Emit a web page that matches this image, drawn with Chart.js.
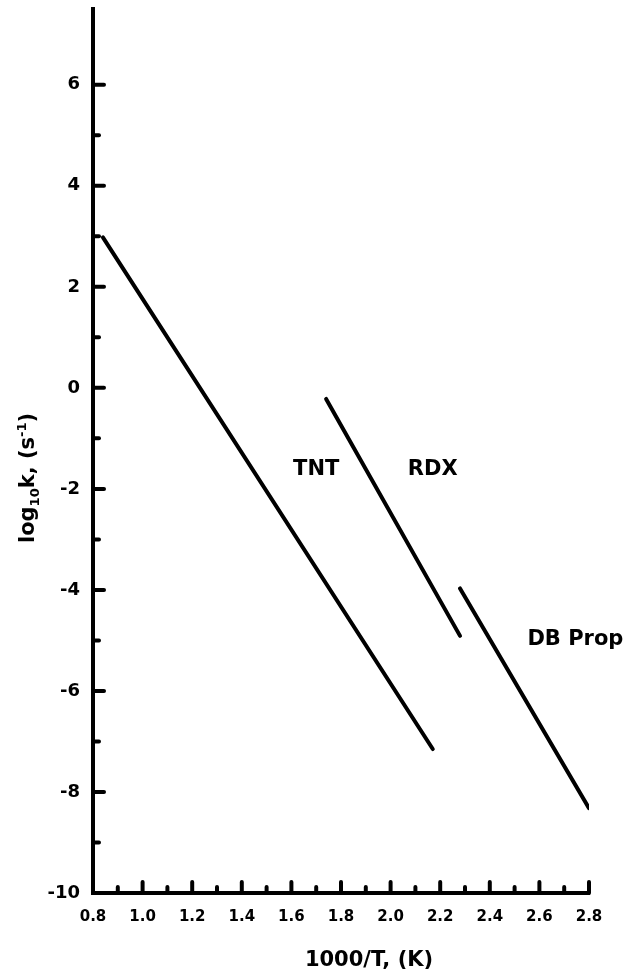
<!DOCTYPE html>
<html>
<head>
<meta charset="utf-8">
<script src="https://cdn.jsdelivr.net/npm/chart.js@4/dist/chart.umd.min.js"></script>
<style>
    body { margin: 0; background: #fff; }
</style>
</head>
<body>
<canvas id="rateChart" width="627" height="973"></canvas>
<script>
// tick labels
const xTickLabels = ['0.8', '1.0', '1.2', '1.4', '1.6', '1.8', '2.0', '2.2', '2.4', '2.6', '2.8'];
const yTickLabels = ['6', '4', '2', '0', '-2', '-4', '-6', '-8', '-10'];
const xMinorTicks = [0.9, 1.1, 1.3, 1.5, 1.7, 1.9, 2.1, 2.3, 2.5, 2.7];
const yMinorTicks = [5, 3, 1, -1, -3, -5, -7, -9];

// Arrhenius lines, 1000/T vs log10 k
const tntX = [0.84, 2.17];
const tntY = [2.98, -7.15];
const rdxX = [1.74, 2.28];
const rdxY = [-0.22, -4.91];
const dbX = [2.28, 2.80];
const dbY = [-3.97, -8.32];

const seriesNames = ['TNT', 'RDX', 'DB Prop'];

const FONT = "'DejaVu Sans', sans-serif";

// where the series names sit, in data units
const notes = [
    { text: seriesNames[0], x: 1.70, y: -1.62 },
    { text: seriesNames[1], x: 2.17, y: -1.62 },
    { text: seriesNames[2], x: 2.745, y: -4.99 }
];

const toPoints = (xs, ys) => xs.map((x, i) => ({ x: x, y: ys[i] }));

const lineStyle = {
    showLine: true,
    borderColor: '#000',
    borderWidth: 4,
    borderCapStyle: 'round',
    pointRadius: 0,
    fill: false
};

const decor = {
    id: 'decor',
    afterDraw(chart) {
        const ctx = chart.ctx;
        const xs = chart.scales.x;
        const ys = chart.scales.y;
        const area = chart.chartArea;
        ctx.save();
        ctx.strokeStyle = '#000';
        ctx.lineCap = 'round';
        ctx.lineWidth = 4;

        // inward tick marks
        const xMajor = xTickLabels.map(Number).filter(v => v > 0.8);
        const tick = (x1, y1, x2, y2) => {
            ctx.beginPath();
            ctx.moveTo(x1, y1);
            ctx.lineTo(x2, y2);
            ctx.stroke();
        };
        xMajor.forEach(v => { const p = xs.getPixelForValue(v); tick(p, area.bottom, p, area.bottom - 11); });
        xMinorTicks.forEach(v => { const p = xs.getPixelForValue(v); tick(p, area.bottom, p, area.bottom - 6); });
        yTickLabels.map(Number).filter(v => v > -10).forEach(v => {
            const p = ys.getPixelForValue(v);
            tick(area.left, p, area.left + 11, p);
        });
        yMinorTicks.forEach(v => { const p = ys.getPixelForValue(v); tick(area.left, p, area.left + 6, p); });

        // series names
        ctx.fillStyle = '#000';
        ctx.font = 'bold 21px ' + FONT;
        ctx.textAlign = 'center';
        ctx.textBaseline = 'middle';
        notes.forEach(n => ctx.fillText(n.text, xs.getPixelForValue(n.x), ys.getPixelForValue(n.y)));

        // x title
        ctx.fillText('1000/T, (K)', 369, 961);

        // y title with subscript and superscript
        const parts = [
            { t: 'log', size: 21, dy: 0 },
            { t: '10', size: 13, dy: 5 },
            { t: 'k, (s', size: 21, dy: 0 },
            { t: '-1', size: 13, dy: -8 },
            { t: ')', size: 21, dy: 0 }
        ];
        let total = 0;
        parts.forEach(p => {
            ctx.font = 'bold ' + p.size + 'px ' + FONT;
            p.w = ctx.measureText(p.t).width;
            total += p.w;
        });
        ctx.translate(27, 478);
        ctx.rotate(-Math.PI / 2);
        ctx.textAlign = 'left';
        ctx.textBaseline = 'alphabetic';
        let cx = -total / 2;
        parts.forEach(p => {
            ctx.font = 'bold ' + p.size + 'px ' + FONT;
            ctx.fillText(p.t, cx, 7 + p.dy);
            cx += p.w;
        });
        ctx.restore();
    }
};

new Chart(document.getElementById('rateChart'), {
    type: 'scatter',
    data: {
        datasets: [
            Object.assign({ label: seriesNames[0], data: toPoints(tntX, tntY) }, lineStyle),
            Object.assign({ label: seriesNames[1], data: toPoints(rdxX, rdxY) }, lineStyle),
            Object.assign({ label: seriesNames[2], data: toPoints(dbX, dbY) }, lineStyle)
        ]
    },
    options: {
        responsive: false,
        animation: false,
        layout: { padding: { top: 9, right: 38, left: 0, bottom: 0 } },
        plugins: {
            legend: { display: false },
            tooltip: { enabled: false }
        },
        scales: {
            x: {
                type: 'linear',
                min: 0.8,
                max: 2.8,
                grid: { display: false, drawTicks: false },
                border: { display: true, color: '#000', width: 4 },
                afterBuildTicks: s => { s.ticks = xTickLabels.map(v => ({ value: Number(v) })); },
                afterFit: s => { s.height = 80; s.paddingLeft = 0; s.paddingRight = 0; },
                ticks: {
                    color: '#000',
                    padding: 15,
                    maxRotation: 0,
                    font: { family: FONT, size: 15, weight: 'bold' },
                    callback: v => Number(v).toFixed(1)
                }
            },
            y: {
                type: 'linear',
                min: -10,
                max: 7.5,
                grid: { display: false, drawTicks: false },
                border: { display: true, color: '#000', width: 4 },
                afterBuildTicks: s => { s.ticks = yTickLabels.map(v => ({ value: Number(v) })); },
                afterFit: s => { s.width = 93; s.paddingTop = 0; s.paddingBottom = 0; },
                ticks: {
                    color: '#000',
                    padding: 13,
                    font: { family: FONT, size: 18, weight: 'bold' },
                    callback: v => String(v)
                }
            }
        }
    },
    plugins: [decor]
});
</script>
</body>
</html>
